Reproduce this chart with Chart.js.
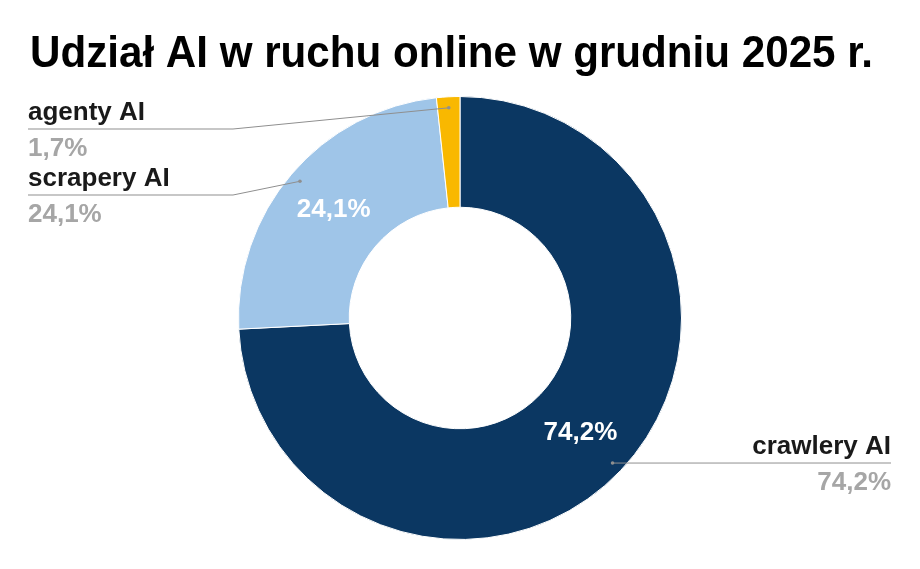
<!DOCTYPE html>
<html>
<head>
<meta charset="utf-8">
<script src="https://cdn.jsdelivr.net/npm/chart.js@4"></script>
<style>
html, body { margin: 0; padding: 0; background: #fff; }
#wrap { width: 920px; height: 569px; position: relative; }
</style>
</head>
<body>
<div id="wrap"><canvas id="chart"></canvas></div>
<script>
const chartTitle = "Udział AI w ruchu online w grudniu 2025 r.";
const categories = ["crawlery AI", "scrapery AI", "agenty AI"];
const shares = [74.2, 24.1, 1.7];
const colors = ["#0b3762", "#9fc5e8", "#f9b800"];

const fmt = (v) => v.toFixed(1).replace(".", ",") + "%";
const FONT = "'Liberation Sans', Arial, sans-serif";

// callouts: side of the label and where it sits
const callouts = {
    "crawlery AI": { side: "right", x: 891, y: 463 },
    "scrapery AI": { side: "left", x: 28, y: 195, bend: 233 },
    "agenty AI": { side: "left", x: 28, y: 129, bend: 233 },
};

const labelPlugin = {
    id: "labels",
    afterDatasetsDraw(chart) {
        const ctx = chart.ctx;
        const meta = chart.getDatasetMeta(0);
        ctx.save();

        // title
        ctx.fillStyle = "#000";
        ctx.font = "bold 44px " + FONT;
        ctx.textBaseline = "alphabetic";
        ctx.textAlign = "left";
        ctx.fillText(chartTitle, 30, 67, 843);

        meta.data.forEach((arc, i) => {
            const p = arc.getProps(["x", "y", "startAngle", "endAngle", "outerRadius", "innerRadius"], true);
            const mid = (p.startAngle + p.endAngle) / 2;

            // value inside the slice
            if (shares[i] > 5) {
                const r = (p.outerRadius + p.innerRadius) / 2;
                ctx.fillStyle = "#fff";
                ctx.font = "bold 26px " + FONT;
                ctx.textAlign = "center";
                ctx.textBaseline = "middle";
                ctx.fillText(fmt(shares[i]), p.x + Math.cos(mid) * r, p.y + Math.sin(mid) * r);
            }

            // leader line
            const c = callouts[categories[i]];
            const rd = p.outerRadius - 11;
            const dx = p.x + Math.cos(mid) * rd;
            const dy = p.y + Math.sin(mid) * rd;
            ctx.strokeStyle = "#8f8f8f";
            ctx.fillStyle = "#8f8f8f";
            ctx.lineWidth = 1;
            ctx.beginPath();
            ctx.arc(dx, dy, 1.8, 0, Math.PI * 2);
            ctx.fill();
            ctx.beginPath();
            ctx.moveTo(dx, dy);
            if (c.side === "left") {
                ctx.lineTo(c.bend, c.y);
                ctx.lineTo(c.x, c.y);
            } else {
                ctx.lineTo(c.x, c.y);
            }
            ctx.stroke();

            // outside label
            ctx.font = "bold 26px " + FONT;
            ctx.textAlign = c.side === "left" ? "left" : "right";
            ctx.textBaseline = "alphabetic";
            ctx.fillStyle = "#1a1a1a";
            ctx.fillText(categories[i], c.x, c.y - 9);
            ctx.fillStyle = "#a6a6a6";
            ctx.fillText(fmt(shares[i]), c.x, c.y + 27);
        });
        ctx.restore();
    },
};

new Chart(document.getElementById("chart"), {
    type: "doughnut",
    data: {
        labels: categories,
        datasets: [
            {
                data: shares,
                backgroundColor: colors,
                borderColor: "#fff",
                borderWidth: 1,
            },
        ],
    },
    options: {
        responsive: true,
        maintainAspectRatio: false,
        animation: false,
        cutout: "50%",
        layout: { padding: { top: 96, bottom: 29, left: 0, right: 0 } },
        plugins: {
            legend: { display: false },
            tooltip: { enabled: false },
        },
    },
    plugins: [labelPlugin],
});
</script>
</body>
</html>
